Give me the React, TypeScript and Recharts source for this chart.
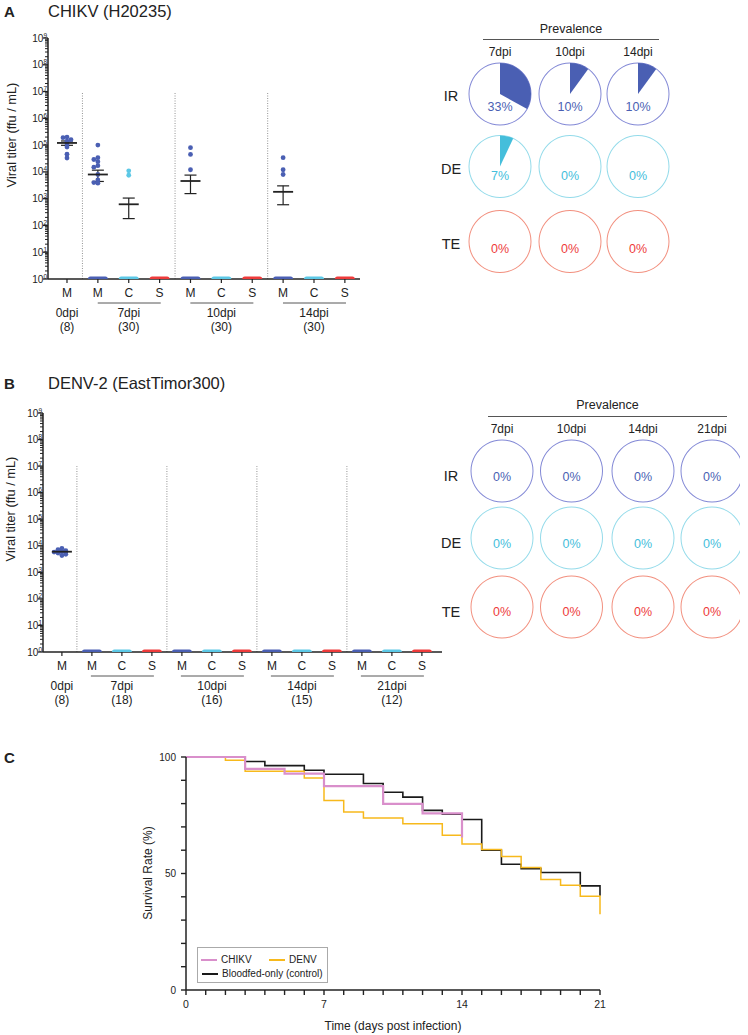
import React from 'react';
import {
  ScatterChart,
  Scatter,
  XAxis,
  YAxis,
  ErrorBar,
  ReferenceLine,
  PieChart,
  Pie,
  Cell,
  LineChart,
  Line,
} from 'recharts';

const FONT = '"Liberation Sans", Arial, Helvetica, sans-serif';
const INK = '#222';

// ---- A: CHIKV (H20235) titers, one entry per x position ----
const chikvCats = ['M', 'M', 'C', 'S', 'M', 'C', 'S', 'M', 'C', 'S'];
const chikvCatN = [8, 30, 30, 30, 30, 30, 30, 30, 30, 30];
const chikvPositives: number[][] = [
  [200000, 190000, 160000, 140000, 110000, 85000, 46000, 33000],
  [100000, 34000, 29000, 24000, 17000, 15000, 8000, 5000, 4000, 3800],
  [11000, 7500],
  [],
  [80000, 45000, 12000],
  [],
  [],
  [34000, 12000, 8000],
  [],
  [],
];
const chikvGroups = ['0dpi', '7dpi', '10dpi', '14dpi'];
const chikvGroupN = [8, 30, 30, 30];

// ---- B: DENV-2 (EastTimor300) titers ----
const denvCats = ['M', 'M', 'C', 'S', 'M', 'C', 'S', 'M', 'C', 'S', 'M', 'C', 'S'];
const denvCatN = [8, 18, 18, 18, 16, 16, 16, 15, 15, 15, 12, 12, 12];
const denvPositives: number[][] = [
  [8000, 7200, 6500, 6000, 5800, 5300, 4800, 4300],
  [], [], [], [], [], [], [], [], [], [], [], [],
];
const denvGroups = ['0dpi', '7dpi', '10dpi', '14dpi', '21dpi'];
const denvGroupN = [8, 18, 16, 15, 12];

// ---- prevalence pies (%) rows IR / DE / TE ----
const prevRows = ['IR', 'DE', 'TE'];
const chikvPrevCols = ['7dpi', '10dpi', '14dpi'];
const chikvPrev = [
  [33, 10, 10],
  [7, 0, 0],
  [0, 0, 0],
];
const denvPrevCols = ['7dpi', '10dpi', '14dpi', '21dpi'];
const denvPrev = [
  [0, 0, 0, 0],
  [0, 0, 0, 0],
  [0, 0, 0, 0],
];

// ---- C: survival (%) by day ----
const days = Array.from({ length: 22 }, (_, i) => i);
const dayLabels = [0, 7, 14, 21];
const survControl = [100, 100, 100, 98.1, 96.3, 96.3, 94.3, 92.6, 92.6, 88.6, 84.9, 82.8, 77.1, 75.4, 73.2, 60.0, 54.0, 52.1, 50.4, 50.4, 44.7, 40.4];
const survChikv = [100, 100, 100, 94.9, 94.9, 92.9, 92.9, 87.5, 87.5, 87.5, 79.9, 79.9, 75.8, 75.8, 65.4];
const survDenv = [100, 100, 98.6, 93.9, 93.9, 93.9, 91.0, 81.3, 76.4, 73.8, 73.8, 71.4, 71.4, 66.4, 62.7, 60.3, 57.3, 52.6, 47.4, 45.0, 40.2, 32.5];
const pctTicks = [0, 10, 20, 30, 40, 50, 60, 70, 80, 90, 100];
const pctLabels = [0, 50, 100];

const decades = [0, 1, 2, 3, 4, 5, 6, 7, 8, 9];
const minorSteps = [2, 3, 4, 5, 6, 7, 8, 9];
const titerTicks = [
  ...decades.map((e) => 10 ** e),
  ...decades.slice(0, -1).flatMap((e) => minorSteps.map((m) => m * 10 ** e)),
].sort((a, b) => a - b);

const TISSUE_COLOR: Record<string, string> = { M: '#4a5fb3', C: '#5cc8e6', S: '#ee3b3b' };
const ROW_STYLE: Record<string, { ring: string; fill: string }> = {
  IR: { ring: '#8389d6', fill: '#4a5fb3' },
  DE: { ring: '#94dbea', fill: '#45bedb' },
  TE: { ring: '#f2907f', fill: '#ee3b3b' },
};

// simple beeswarm so dots of one column do not sit on top of each other
function swarm(vals: number[], step = 0.13, gap = 0.1): number[] {
  const placed: { l: number; o: number }[] = [];
  return vals.map((v) => {
    const l = Math.log10(v);
    for (const k of [0, -1, 1, -2, 2, -3, 3]) {
      const o = k * step;
      const hit = placed.some((p) => Math.abs(p.l - l) < gap && Math.abs(p.o - o) < step * 0.9);
      if (!hit) {
        placed.push({ l, o });
        return o;
      }
    }
    return 0;
  });
}

function buildTiter(cats: string[], positives: number[][], ns: number[]) {
  const dots: any[] = [];
  const negs: any[] = [];
  const means: any[] = [];
  positives.forEach((vals, i) => {
    const offs = swarm(vals);
    vals.forEach((v, j) => dots.push({ x: i + offs[j], y: v, cat: cats[i] }));
    const n = ns[i];
    if (n > vals.length) negs.push({ x: i, y: 1, cat: cats[i] });
    if (vals.length) {
      const all = vals.concat(new Array(n - vals.length).fill(0));
      const mean = all.reduce((a, b) => a + b, 0) / n;
      const sd = Math.sqrt(all.reduce((a, b) => a + (b - mean) ** 2, 0) / (n - 1));
      const sem = sd / Math.sqrt(n);
      means.push({ x: i, y: mean, err: [Math.min(sem, mean - 1), sem] });
    }
  });
  return { dots, negs, means };
}

const catOf = (p: any) => p.cat ?? p.payload?.cat;

const DotMark = (p: any) => <circle cx={p.cx} cy={p.cy} r={2.4} fill={TISSUE_COLOR[catOf(p)]} />;
const NegMark = (p: any) => (
  <rect x={p.cx - 10} y={p.cy - 2.5} width={20} height={5} rx={2.5} fill={TISSUE_COLOR[catOf(p)]} />
);
const MeanMark = (p: any) => (
  <line x1={p.cx - 10} x2={p.cx + 10} y1={p.cy} y2={p.cy} stroke={INK} strokeWidth={1.8} />
);

const LogTick = (p: any) => {
  const v = p.payload.value;
  const e = Math.round(Math.log10(v));
  const major = Math.abs(Math.log10(v) - e) < 1e-6;
  return (
    <g>
      <line x1={p.x - (major ? 5 : 3)} x2={p.x} y1={p.y} y2={p.y} stroke={INK} strokeWidth={major ? 1.3 : 1} />
      {major && (
        <text x={p.x - 1} y={p.y + 3.5} textAnchor="end" fontSize={10} fontFamily={FONT} fill={INK}>
          10<tspan dy={-4} fontSize={6.5}>{e}</tspan>
        </text>
      )}
    </g>
  );
};

const makeCatTick = (cats: string[], groups: string[], groupN: number[]) => (p: any) => {
  const i = Math.round(p.payload.value);
  const g = i === 0 ? 0 : (i + 1) % 3 === 0 ? (i + 1) / 3 : -1;
  return (
    <g fontFamily={FONT} fill={INK}>
      <line x1={p.x} x2={p.x} y1={p.y} y2={p.y + 4} stroke={INK} strokeWidth={1.2} />
      <text x={p.x} y={p.y + 18} textAnchor="middle" fontSize={12}>{cats[i]}</text>
      {g > 0 && <line x1={p.x - 31} x2={p.x + 32} y1={p.y + 24} y2={p.y + 24} stroke="#444" strokeWidth={0.9} />}
      {g >= 0 && <text x={p.x} y={p.y + 38} textAnchor="middle" fontSize={12}>{groups[g]}</text>}
      {g >= 0 && <text x={p.x} y={p.y + 52} textAnchor="middle" fontSize={12}>({groupN[g]})</text>}
    </g>
  );
};

function TiterChart(props: any) {
  const { cats, positives, ns, groups, groupN, xDomain, width, height, margin, yWidth, xHeight } = props;
  const { dots, negs, means } = buildTiter(cats, positives, ns);
  const seps = groups.slice(1).map((_: string, g: number) => 0.5 + 3 * g);
  const axisLine = { stroke: INK, strokeWidth: 1.5 };
  return (
    <ScatterChart width={width} height={height} margin={margin}>
      <XAxis
        type="number"
        dataKey="x"
        domain={xDomain}
        allowDataOverflow
        ticks={cats.map((_: string, i: number) => i)}
        interval={0}
        tickSize={0}
        tickMargin={0}
        tickLine={false}
        height={xHeight}
        axisLine={axisLine}
        tick={makeCatTick(cats, groups, groupN)}
      />
      <YAxis
        type="number"
        dataKey="y"
        scale="log"
        domain={[1, 1e9]}
        allowDataOverflow
        ticks={titerTicks}
        interval={0}
        tickSize={0}
        tickMargin={0}
        tickLine={false}
        width={yWidth}
        axisLine={axisLine}
        tick={LogTick}
      />
      {seps.map((s: number) => (
        <ReferenceLine
          key={s}
          segment={[{ x: s, y: 1 }, { x: s, y: 1e7 }]}
          stroke="#777"
          strokeWidth={0.8}
          strokeDasharray="1 1.5"
        />
      ))}
      <Scatter data={dots} shape={DotMark} isAnimationActive={false} />
      <Scatter data={negs} shape={NegMark} isAnimationActive={false} />
      <Scatter data={means} shape={MeanMark} isAnimationActive={false}>
        <ErrorBar dataKey="err" direction="y" width={6} stroke={INK} strokeWidth={1.2} />
      </Scatter>
    </ScatterChart>
  );
}

function T({ x, y, size = 12, color = INK, weight = 400, rotate = 0, anchor = 'middle', children }: any) {
  const tx = anchor === 'middle' ? '-50%' : anchor === 'end' ? '-100%' : '0';
  return (
    <div
      style={{
        position: 'absolute',
        left: x,
        top: y,
        transform: `translate(${tx}, -50%) rotate(${rotate}deg)`,
        whiteSpace: 'nowrap',
        lineHeight: 1,
        fontSize: size,
        fontWeight: weight,
        color,
      }}
    >
      {children}
    </div>
  );
}

function PrevGrid({ cols, values, colX, rowY, headerY, lineX, lineY, colLabelY, textDy, rowLabelDy }: any) {
  const left = 440;
  const top = rowY[0] - 36;
  const h = rowY[2] - rowY[0] + 72;
  return (
    <>
      <T x={(lineX[0] + lineX[1]) / 2} y={headerY} size={12.5}>Prevalence</T>
      <div style={{ position: 'absolute', left: lineX[0], top: lineY, width: lineX[1] - lineX[0], height: 1, background: '#555' }} />
      {cols.map((c: string, j: number) => (
        <T key={c} x={colX[j]} y={colLabelY} size={12}>{c}</T>
      ))}
      {prevRows.map((r, i) => (
        <T key={r} x={451} y={rowY[i] + rowLabelDy} size={14.5}>{r}</T>
      ))}
      <div style={{ position: 'absolute', left, top }}>
        <PieChart width={300} height={h} margin={{ top: 0, right: 0, bottom: 0, left: 0 }}>
          {prevRows.flatMap((r, i) =>
            cols.flatMap((c: string, j: number) => {
              const p = values[i][j];
              const cx = colX[j] - left;
              const cy = rowY[i] - top;
              const st = ROW_STYLE[r];
              const out = [
                <Pie
                  key={`ring-${r}-${c}`}
                  data={[{ v: 1 }]}
                  dataKey="v"
                  cx={cx}
                  cy={cy}
                  innerRadius={30.5}
                  outerRadius={31.5}
                  fill={st.ring}
                  stroke="none"
                  isAnimationActive={false}
                />,
              ];
              if (p > 0) {
                out.push(
                  <Pie
                    key={`wedge-${r}-${c}`}
                    data={[{ v: p }, { v: 100 - p }]}
                    dataKey="v"
                    cx={cx}
                    cy={cy}
                    innerRadius={0}
                    outerRadius={31}
                    startAngle={90}
                    endAngle={-270}
                    stroke="none"
                    isAnimationActive={false}
                  >
                    <Cell fill={st.fill} />
                    <Cell fill="transparent" />
                  </Pie>,
                );
              }
              return out;
            }),
          )}
        </PieChart>
      </div>
      {prevRows.map((r, i) =>
        cols.map((c: string, j: number) => (
          <T key={`t-${r}-${c}`} x={colX[j]} y={rowY[i] + textDy[i]} size={12.5} color={ROW_STYLE[r].fill}>
            {values[i][j]}%
          </T>
        )),
      )}
    </>
  );
}

const DayTick = (p: any) => (
  <g>
    <line x1={p.x} x2={p.x} y1={p.y} y2={p.y + 5} stroke={INK} strokeWidth={1.4} />
    {dayLabels.includes(p.payload.value) && (
      <text x={p.x} y={p.y + 17.5} textAnchor="middle" fontSize={10.5} fontFamily={FONT} fill={INK}>
        {p.payload.value}
      </text>
    )}
  </g>
);

const PctTick = (p: any) => (
  <g>
    <line x1={p.x - 5} x2={p.x} y1={p.y} y2={p.y} stroke={INK} strokeWidth={1.4} />
    {pctLabels.includes(p.payload.value) && (
      <text x={p.x - 10} y={p.y + 3.5} textAnchor="end" fontSize={10} fontFamily={FONT} fill={INK}>
        {p.payload.value}
      </text>
    )}
  </g>
);

const survData = days.map((d, i) => ({
  day: d,
  control: survControl[i],
  chikv: i < survChikv.length ? survChikv[i] : null,
  denv: survDenv[i],
}));

const legendItems = [
  { label: 'CHIKV', color: '#d98fcb', x: 201, y: 960 },
  { label: 'DENV', color: '#f7b91c', x: 269, y: 960 },
  { label: 'Bloodfed-only (control)', color: '#1a1a1a', x: 202, y: 974 },
];

export default function App() {
  return (
    <div
      style={{
        position: 'absolute',
        left: 0,
        top: 0,
        width: 748,
        height: 1035,
        background: '#fff',
        fontFamily: FONT,
        color: INK,
        overflow: 'hidden',
      }}
    >
      {/* A */}
      <T x={4} y={11} size={15} weight={700} anchor="start">A</T>
      <T x={48} y={11} size={16.5} anchor="start">CHIKV (H20235)</T>
      <T x={12} y={135} size={12.8} rotate={-90}>Viral titer (ffu / mL)</T>
      <div style={{ position: 'absolute', left: 0, top: 0 }}>
        <TiterChart
          cats={chikvCats}
          positives={chikvPositives}
          ns={chikvCatN}
          groups={chikvGroups}
          groupN={chikvGroupN}
          xDomain={[-0.615, 9.49]}
          width={370}
          height={340}
          margin={{ top: 38, right: 10, bottom: 0, left: 0 }}
          yWidth={48}
          xHeight={61}
        />
      </div>
      <PrevGrid
        cols={chikvPrevCols}
        values={chikvPrev}
        colX={[500, 570, 638]}
        rowY={[94, 166.5, 241.5]}
        headerY={29}
        lineX={[483, 659]}
        lineY={39}
        colLabelY={52}
        textDy={[13, 9, 7]}
        rowLabelDy={2}
      />

      {/* B */}
      <T x={4} y={383} size={15} weight={700} anchor="start">B</T>
      <T x={48} y={383} size={16.5} anchor="start">DENV-2 (EastTimor300)</T>
      <T x={11} y={509} size={12.8} rotate={-90}>Viral titer (ffu / mL)</T>
      <div style={{ position: 'absolute', left: 0, top: 375 }}>
        <TiterChart
          cats={denvCats}
          positives={denvPositives}
          ns={denvCatN}
          groups={denvGroups}
          groupN={denvGroupN}
          xDomain={[-0.63, 12.67]}
          width={455}
          height={340}
          margin={{ top: 38, right: 13, bottom: 0, left: 0 }}
          yWidth={43}
          xHeight={63}
        />
      </div>
      <PrevGrid
        cols={denvPrevCols}
        values={denvPrev}
        colX={[502, 571.5, 643, 712]}
        rowY={[471, 538, 607]}
        headerY={405}
        lineX={[488, 727]}
        lineY={416}
        colLabelY={429}
        textDy={[6, 6, 5]}
        rowLabelDy={5}
      />

      {/* C */}
      <T x={4} y={757} size={15} weight={700} anchor="start">C</T>
      <T x={148} y={873} size={12} rotate={-90}>Survival Rate (%)</T>
      <T x={393} y={1026} size={12}>Time (days post infection)</T>
      <div style={{ position: 'absolute', left: 140, top: 740 }}>
        <LineChart width={470} height={290} data={survData} margin={{ top: 17, right: 10, bottom: 0, left: 0 }}>
          <XAxis
            type="number"
            dataKey="day"
            domain={[0, 21]}
            ticks={days}
            interval={0}
            tickSize={0}
            tickMargin={0}
            tickLine={false}
            height={40}
            axisLine={{ stroke: INK, strokeWidth: 1.5 }}
            tick={DayTick}
          />
          <YAxis
            type="number"
            domain={[0, 100]}
            ticks={pctTicks}
            interval={0}
            tickSize={0}
            tickMargin={0}
            tickLine={false}
            width={46}
            axisLine={{ stroke: INK, strokeWidth: 1.5 }}
            tick={PctTick}
          />
          <Line type="stepAfter" dataKey="control" stroke="#1a1a1a" strokeWidth={1.6} dot={false} isAnimationActive={false} />
          <Line type="stepAfter" dataKey="denv" stroke="#f7b91c" strokeWidth={1.5} dot={false} isAnimationActive={false} />
          <Line type="stepAfter" dataKey="chikv" stroke="#d98fcb" strokeWidth={2.2} dot={false} isAnimationActive={false} />
        </LineChart>
      </div>
      <div
        style={{
          position: 'absolute',
          left: 197,
          top: 947,
          width: 131,
          height: 36,
          border: '1px solid #aaa',
          boxSizing: 'border-box',
        }}
      />
      {legendItems.map((it) => (
        <React.Fragment key={it.label}>
          <div style={{ position: 'absolute', left: it.x, top: it.y - 1, width: 16, height: 1.6, background: it.color }} />
          <T x={it.x + 20} y={it.y} size={10} anchor="start">{it.label}</T>
        </React.Fragment>
      ))}
    </div>
  );
}
